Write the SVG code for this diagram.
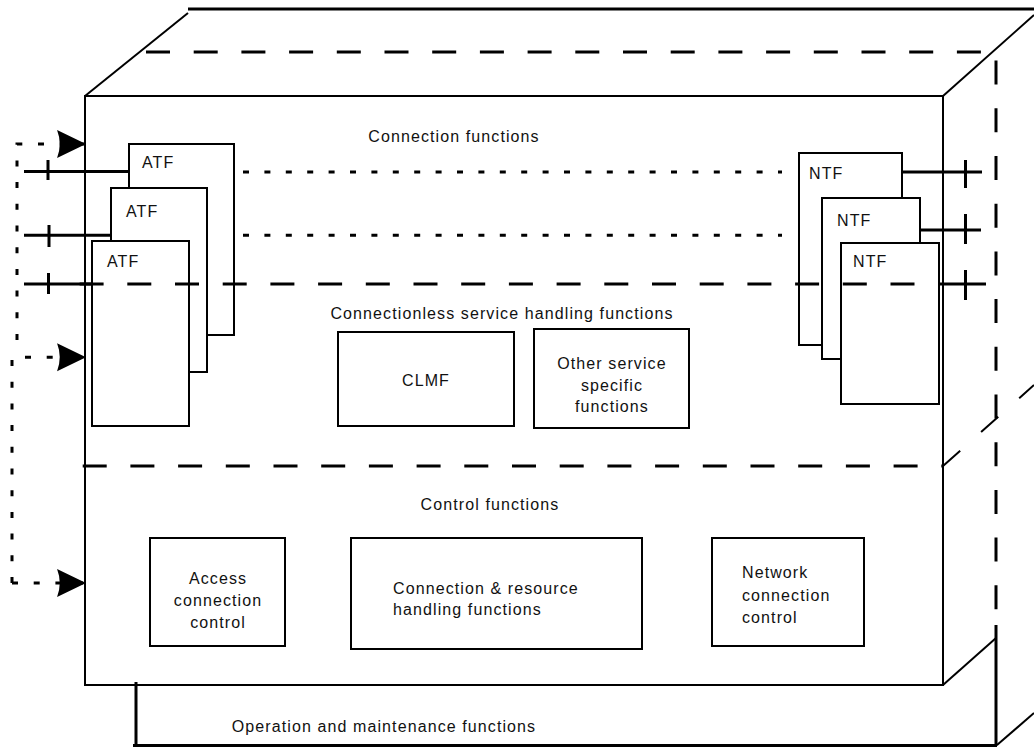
<svg xmlns="http://www.w3.org/2000/svg" width="1034" height="747" viewBox="0 0 1034 747">
<defs>
<style>
text{font-family:"Liberation Sans",Arial,sans-serif;font-size:16px;letter-spacing:1.1px;fill:#111}
.mid{text-anchor:middle}
.box{fill:#fff;stroke:#000;stroke-width:2}
.ln{fill:none;stroke:#000;stroke-width:2}
.thick{fill:none;stroke:#000;stroke-width:3}
.dash{fill:none;stroke:#000;stroke-width:3;stroke-dasharray:24 23.7}
.dot{fill:none;stroke:#000;stroke-width:3;stroke-dasharray:6 15.4}
.dotc{fill:none;stroke:#000;stroke-width:3;stroke-dasharray:6 15.7}
</style>
<marker id="arr" markerUnits="userSpaceOnUse" markerWidth="30" markerHeight="30" viewBox="0 0 28 28" refX="27" refY="14" orient="auto">
<path d="M0,1 L27,14 L0,27 Q5,14 0,1Z" fill="#000"/>
</marker>
</defs>
<rect width="1034" height="747" fill="#fff"/>

<!-- 3D housing -->
<g id="housing">
<path class="thick" d="M188,9 H1034"/>
<path class="ln" d="M85,96 L188,13"/>
<path class="ln" d="M943,96 L1034,15"/>
<path class="dash" d="M146,52 H996 V625"/>
<path class="thick" d="M996,625 V746"/>
<path class="ln" d="M943,466 L1034,385" style="stroke-dasharray:23 28"/>
<path class="ln" d="M943,685 L996,638"/>
<path class="ln" d="M997,745 L1034,713"/>
<path class="thick" d="M136,682 V746 M133,745.5 H997"/>
<rect class="ln" x="85" y="96" width="858" height="589"/>
<path class="dash" d="M82.7,466 H943"/>
</g>

<!-- section labels -->
<g id="labels">
<text class="mid" x="454" y="142">Connection functions</text>
<text class="mid" x="502" y="319">Connectionless service handling functions</text>
<text class="mid" x="490" y="510">Control functions</text>
<text class="mid" x="384" y="732">Operation and maintenance functions</text>
</g>

<!-- ATF nodes -->
<g id="atf1"><rect class="box" x="129" y="144" width="105" height="191"/><text x="142" y="168">ATF</text></g>
<g id="atf2"><rect class="box" x="111" y="188" width="96" height="184"/><text x="126" y="217">ATF</text></g>
<g id="atf3"><rect class="box" x="92" y="241" width="97" height="185"/><text x="107" y="267">ATF</text></g>

<!-- NTF nodes -->
<g id="ntf1"><rect class="box" x="799" y="153" width="103" height="192"/><text x="809" y="179">NTF</text></g>
<g id="ntf2"><rect class="box" x="822" y="198" width="98" height="161"/><text x="837" y="226">NTF</text></g>
<g id="ntf3"><rect class="box" x="841" y="243" width="98" height="161"/><text x="853" y="267">NTF</text></g>

<!-- Other nodes -->
<g id="clmf"><rect class="box" x="338" y="332" width="176" height="94"/><text class="mid" x="426" y="386">CLMF</text></g>
<g id="other"><rect class="box" x="534" y="329" width="155" height="99"/>
<text class="mid" x="612" y="369">Other service</text><text class="mid" x="612" y="391">specific</text><text class="mid" x="612" y="412">functions</text></g>
<g id="access"><rect class="box" x="150" y="538" width="135" height="108"/>
<text class="mid" x="218" y="584">Access</text><text class="mid" x="218" y="606">connection</text><text class="mid" x="218" y="628">control</text></g>
<g id="connres"><rect class="box" x="351" y="538" width="291" height="111"/>
<text x="393" y="594">Connection &amp; resource</text><text x="393" y="615">handling functions</text></g>
<g id="network"><rect class="box" x="712" y="538" width="152" height="108"/>
<text x="742" y="578">Network</text><text x="742" y="601">connection</text><text x="742" y="623">control</text></g>

<!-- connectors -->
<g id="connectors">
<path class="thick" d="M24,171.5 H129 M48,160 V180"/>
<path class="thick" d="M24,235.3 H111 M49,225 V247"/>
<path class="thick" d="M24,284 H92 M48.5,273 V294"/>
<path class="dash" d="M79.6,284 H939"/>
<path class="thick" d="M939,284 H986 M965.5,270 V300"/>
<path class="thick" d="M902,172 H982 M965.5,160 V188"/>
<path class="thick" d="M920,230 H981 M965.5,214 V244"/>
<path class="dot" d="M243,172 H782"/>
<path class="dot" d="M243,235.3 H782"/>
<path class="dotc" d="M17,340 V144 H86" marker-end="url(#arr)"/>
<path class="dotc" d="M12,583 V357.3 H86" marker-end="url(#arr)"/>
<path class="dotc" d="M12,583 H86" marker-end="url(#arr)"/>
</g>
</svg>
